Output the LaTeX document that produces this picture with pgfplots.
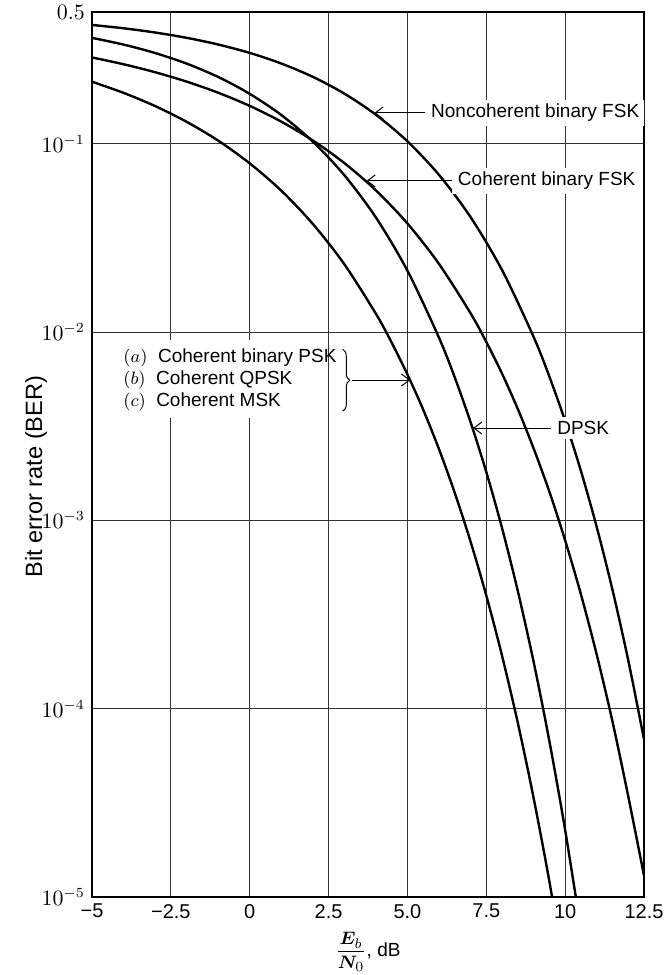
\documentclass[border=0pt]{standalone}
\usepackage{amsmath}
\usepackage{bm}
\usepackage{pgfplots}
\pgfplotsset{compat=1.18}
\usepackage{fontspec}
\setmainfont{Liberation Sans}
\usetikzlibrary{decorations.pathreplacing,arrows.meta}
\newcommand\lab{\fontsize{9.5}{11}\selectfont}

\begin{document}
\begin{tikzpicture}
\begin{axis}[
    name=ax,
    scale only axis,
    width=276pt, height=442.5pt,
    xmin=-5, xmax=12.5,
    ymode=log, ymin=1e-5, ymax=0.5,
    xtick={-5,-2.5,0,2.5,5,7.5,10,12.5},
    xticklabels={−5,−2.5,0,2.5,5.0,7.5,10,12.5},
    ytick={1e-5,1e-4,1e-3,1e-2,1e-1,0.5},
    yticklabels={$10^{-5}$,$10^{-4}$,$10^{-3}$,$10^{-2}$,$10^{-1}$,$0.5$},
    yminorticks=false,
    major tick length=0pt,
    grid=major,
    major grid style={black!80, line width=0.45pt},
    axis line style={line width=0.8pt},
    x tick label style={font=\fontsize{10}{12}\selectfont},
    y tick label style={font=\fontsize{10.5}{12}\selectfont},
    xlabel={$\displaystyle\frac{\bm{E}_b}{\bm{N}_0}$, dB},
    every axis x label/.style={at={(axis description cs:0.5,-0.062)}, anchor=center, font=\lab},
    ylabel={Bit error rate (BER)},
    every axis y label/.style={at={(axis description cs:-0.1014,0.475)}, anchor=center, rotate=90, font=\fontsize{11.8}{14}\selectfont},
]

% coherent binary PSK / QPSK / MSK
\addplot[black, line width=1.2pt, smooth] coordinates {
    (-5,0.2132) (-4,0.1861) (-3,0.1584) (-2,0.1306) (-1,0.1038) (0,0.0786)
    (1,0.0563) (2,0.0375) (3,0.0229) (4,0.0125) (4.5,0.00879) (5,0.00595)
    (5.5,0.00387) (6,0.00239) (6.5,0.00140) (7,7.73e-4) (7.5,3.99e-4)
    (8,1.91e-4) (8.5,8.4e-5) (9,3.36e-5) (9.5,1.21e-5) (10,3.87e-6)};

% DPSK
\addplot[black, line width=1.2pt, smooth] coordinates {
    (-5,0.3645) (-4,0.3358) (-3,0.3029) (-2,0.2661) (-1,0.2260) (0,0.1839)
    (1,0.1420) (2,0.1025) (3,0.0680) (4,0.04057) (5,0.02116) (6,0.009332)
    (6.5,0.00574) (7,0.003327) (7.5,0.001806) (8,9.09e-4) (8.5,4.21e-4)
    (9,1.775e-4) (9.5,6.73e-5) (10,2.27e-5) (10.5,6.70e-6)};

% coherent binary FSK
\addplot[black, line width=1.2pt, smooth] coordinates {
    (-5,0.2869) (-4,0.2640) (-3,0.2395) (-2,0.2135) (-1,0.1864) (0,0.1587)
    (1,0.1309) (2,0.1040) (3,0.0789) (4,0.0565) (5,0.0377) (6,0.0230)
    (7,0.01259) (7.5,0.00886) (8,0.00601) (8.5,0.00390) (9,0.00241)
    (9.5,0.00142) (10,7.83e-4) (10.5,4.05e-4) (11,1.94e-4) (11.5,8.56e-5)
    (12,3.43e-5) (12.5,1.30e-5)};

% noncoherent binary FSK
\addplot[black, line width=1.2pt, smooth] coordinates {
    (-5,0.4269) (-4,0.4098) (-3,0.3892) (-2,0.3647) (-1,0.3361) (0,0.3033)
    (1,0.2664) (2,0.2264) (3,0.1844) (4,0.1424) (5,0.1029) (6,0.0683)
    (7,0.0408) (8,0.02132) (9,0.009421) (9.5,0.00580) (10,0.003369)
    (10.5,0.001830) (11,9.23e-4) (11.5,4.28e-4) (12,1.809e-4) (12.5,6.88e-5)};

% annotations
\node[anchor=west, fill=white, inner xsep=3pt, inner ysep=2pt, font=\lab] (nf) at (axis cs:5.55,0.1455) {Noncoherent binary FSK};
\draw[line width=0.5pt, -{Straight Barb[length=4pt,width=6pt]}] (nf.west) -- (axis cs:3.95,0.1455);

\node[anchor=west, fill=white, inner xsep=3pt, inner ysep=2pt, font=\lab] (cf) at (axis cs:6.4,0.0634) {Coherent binary FSK};
\draw[line width=0.5pt, -{Straight Barb[length=4pt,width=6pt]}] (cf.west) -- (axis cs:3.7,0.0634);

\node[anchor=west, fill=white, inner xsep=3pt, inner ysep=2pt, font=\lab] (dp) at (axis cs:9.55,3.09e-3) {DPSK};
\draw[line width=0.5pt, -{Straight Barb[length=4pt,width=6pt]}] (dp.west) -- (axis cs:7.08,3.09e-3);

\fill[white] (axis cs:-4.87,9.07e-3) rectangle (axis cs:2.29,3.49e-3);
\node[anchor=west, inner sep=0pt, font=\lab] at (axis cs:-4.02,7.28e-3) {$(a)$\ \ Coherent binary PSK};
\node[anchor=west, inner sep=0pt, font=\lab] at (axis cs:-4.02,5.56e-3) {$(b)$\ \ Coherent QPSK};
\node[anchor=west, inner sep=0pt, font=\lab] at (axis cs:-4.02,4.25e-3) {$(c)$\ \ Coherent MSK};
\draw[line width=0.5pt, decorate, decoration={brace, amplitude=3.5pt}] (axis cs:2.95,8.1e-3) -- (axis cs:2.95,3.8e-3);
\draw[line width=0.5pt, -{Straight Barb[length=4pt,width=6pt]}] (axis cs:3.25,5.56e-3) -- (axis cs:5.09,5.56e-3);

\end{axis}
\pgfresetboundingbox
\path[use as bounding box] ([xshift=-46pt,yshift=-39pt]ax.south west) rectangle ([xshift=11.5pt,yshift=6pt]ax.north east);
\end{tikzpicture}
\end{document}
